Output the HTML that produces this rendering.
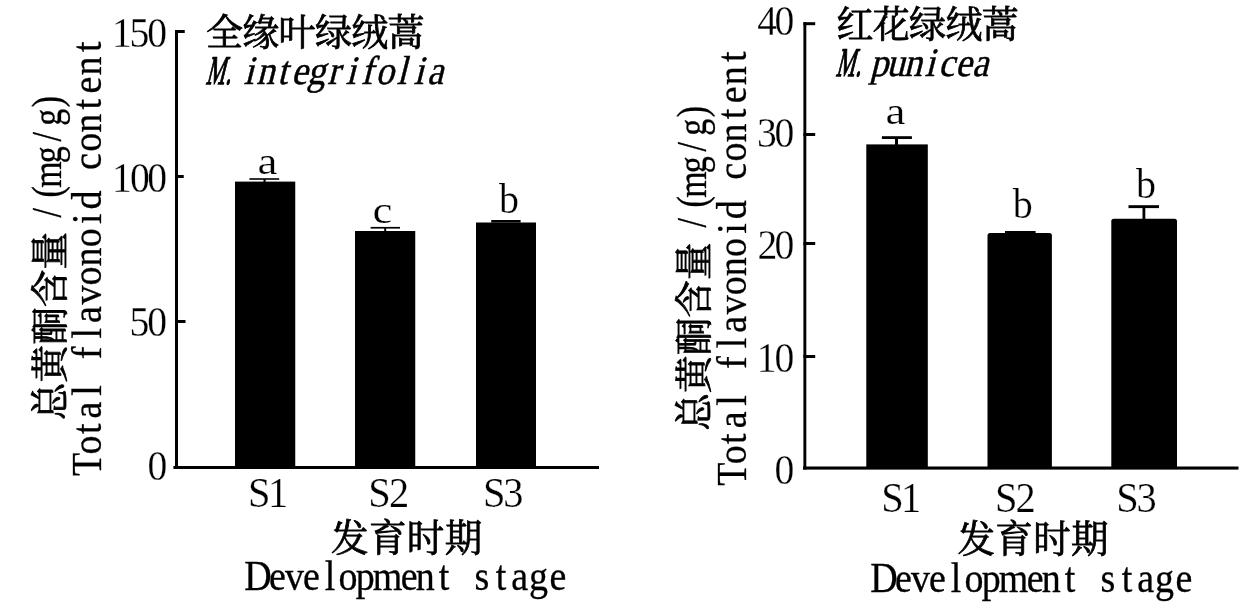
<!DOCTYPE html>
<html lang="zh-CN">
<head>
<meta charset="utf-8">
<title>总黄酮含量 Total flavonoid content</title>
<style>
html,body{margin:0;padding:0;background:#fff;}
body{width:1248px;height:608px;overflow:hidden;}
svg{display:block;}
text{fill:#000;white-space:pre;}
.s{font-family:"Liberation Serif","Noto Serif CJK SC",serif;}
.c{font-family:"Liberation Serif","Noto Serif CJK SC",serif;}
</style>
</head>
<body>
<svg width="1248" height="608" viewBox="0 0 1248 608">
<rect x="0" y="0" width="1248" height="608" fill="#fff"/>
<g id="left-chart">
<g fill="#000">
<rect x="175" y="30" width="3" height="439"/>
<rect x="173.4" y="466" width="425.6" height="3"/>
<rect x="175" y="30" width="9.75" height="3"/>
<rect x="175" y="175" width="8.75" height="3"/>
<rect x="175" y="320" width="10.5" height="3"/>
<rect x="235" y="181.6" width="60.25" height="285.4"/>
<rect x="355" y="231" width="60.25" height="236"/>
<rect x="476" y="222.5" width="60" height="244.5"/>
<rect x="249.4" y="178.2" width="29.8" height="1.6"/>
<rect x="263.5" y="179" width="2.1" height="3"/>
<rect x="370.6" y="226.9" width="29.4" height="1.7"/>
<rect x="384.2" y="227" width="2" height="4.5"/>
<rect x="491.25" y="220" width="29.35" height="2.6"/>
</g>
<text class="s" font-size="41.3" stroke="#fff" stroke-width="0.25" transform="translate(0,46.8) scale(0.96,1)" x="116.7 135.01 153.42">150</text>
<text class="s" font-size="41.3" stroke="#fff" stroke-width="0.25" transform="translate(0,191.6) scale(0.96,1)" x="116.7 135.4 153.42">100</text>
<text class="s" font-size="41.3" stroke="#fff" stroke-width="0.25" transform="translate(0,336) scale(0.96,1)" x="135.01 153.42">50</text>
<text class="s" font-size="41.3" stroke="#fff" stroke-width="0.25" transform="translate(0,480.4) scale(0.96,1)" x="153.74">0</text>
<text class="s" font-size="41.3" stroke="#fff" stroke-width="0.25" transform="translate(0,506.7) scale(0.98,1)" x="253.11 273.39">S1</text>
<text class="s" font-size="41.3" stroke="#fff" stroke-width="0.25" transform="translate(0,506.7) scale(0.98,1)" x="375.76 396.85">S2</text>
<text class="s" font-size="41.3" stroke="#fff" stroke-width="0.25" transform="translate(0,506.7) scale(0.98,1)" x="492.8 513.47">S3</text>
<text class="s" font-size="39" stroke="#fff" stroke-width="0.25" transform="translate(0,173.8) scale(1.15,1)" x="223.97">a</text>
<text class="s" font-size="39" stroke="#fff" stroke-width="0.25" transform="translate(0,222.9) scale(1.15,1)" x="323.81">c</text>
<text class="s" font-size="41.3" stroke="#fff" stroke-width="0.25" transform="translate(0,212.9) scale(0.97,1)" x="514.43">b</text>
<text class="c" font-size="37" font-weight="400" stroke="#000" stroke-width="0.8" transform="translate(206,45.5)" x="0 36.3 72.6 108.9 145.2 181.5">全缘叶绿绒蒿</text>
<text class="s" font-size="40.5" stroke="#000" stroke-width="1.1" vector-effect="non-scaling-stroke" transform="translate(206,83.8) skewX(-14) scale(0.52,1)" x="-1.07 37.25">M.</text>
<text class="s" font-size="40.5" stroke="#000" stroke-width="0.5" transform="translate(240,83.8) skewX(-14) scale(0.9,1)" x="3.78 18.05 41.52 57.03 74.39 96.92 117.11 134.3 150.43 173.82 192.67 207.8">integrifolia</text>
<text class="c" font-size="37.5" font-weight="400" stroke="#000" stroke-width="0.8" transform="translate(331,550.5)" x="0 37.9 75.8 113.7">发育时期</text>
<text class="s" font-size="41.3" stroke="#000" stroke-width="0.3" transform="translate(244.5,590) scale(0.92,1)" x="-0.32 26.66 44 63.46 87.2 102.05 120.89 139.48 169.78 186.16 211.03 232.34 250.02 272.99 289.85 309.29 331.5">Development stage</text>
<text class="c" font-size="37.5" font-weight="400" stroke="#000" stroke-width="0.8" transform="translate(62.5,420) rotate(-90)" x="0 37.6 75.2 112.8 150.4">总黄酮含量</text>
<text class="s" font-size="41.3" stroke="#000" stroke-width="0.3" transform="translate(61,223) rotate(-90) scale(0.82,1)" x="6.7 31.23 43.02 72.97 99.26 118.57 141.05">/(mg/g)</text>
<text class="s" font-size="41.3" stroke="#000" stroke-width="0.3" transform="translate(100.8,476.5) rotate(-90) scale(0.92,1)" x="0.56 23.96 46.08 63.05 87.69 109.02 127.43 149.97 166.86 186.9 207.66 228.26 249.19 274.49 290.21 316.63 333.24 352.99 373.59 399.02 416.34 435.87 461.3">Total flavonoid content</text>
</g>
<g id="right-chart">
<g fill="#000">
<rect x="803.4" y="22.2" width="2.9" height="447.4"/>
<rect x="803" y="466.5" width="435.5" height="3.1"/>
<rect x="803.4" y="22.2" width="11.8" height="3"/>
<rect x="803.4" y="133" width="11.8" height="3"/>
<rect x="803.4" y="242" width="11.8" height="3"/>
<rect x="803.4" y="355" width="11.8" height="3"/>
<rect x="866.3" y="144.4" width="61.5" height="322.6"/>
<rect x="987.5" y="233" width="64.4" height="236" rx="2.5"/>
<rect x="1111.3" y="218.7" width="65.7" height="250" rx="2.5"/>
<rect x="881.9" y="136.2" width="30" height="2.8"/>
<rect x="895" y="137" width="3" height="8"/>
<rect x="1005" y="231" width="30.6" height="2.5"/>
<rect x="1128.5" y="205.2" width="30.5" height="2.9"/>
<rect x="1142.5" y="206" width="2.8" height="13.5"/>
</g>
<text class="s" font-size="41.3" stroke="#fff" stroke-width="0.25" transform="translate(0,34.8) scale(0.96,1)" x="788.76 806.86">40</text>
<text class="s" font-size="41.3" stroke="#fff" stroke-width="0.25" transform="translate(0,146.7) scale(0.96,1)" x="788.66 806.86">30</text>
<text class="s" font-size="41.3" stroke="#fff" stroke-width="0.25" transform="translate(0,258.8) scale(0.96,1)" x="789.07 806.86">20</text>
<text class="s" font-size="41.3" stroke="#fff" stroke-width="0.25" transform="translate(0,371.7) scale(0.96,1)" x="788.27 806.86">10</text>
<text class="s" font-size="41.3" stroke="#fff" stroke-width="0.25" transform="translate(0,483.6) scale(0.96,1)" x="806.86">0</text>
<text class="s" font-size="41.3" stroke="#fff" stroke-width="0.25" transform="translate(0,512) scale(0.98,1)" x="899.13 919.46">S1</text>
<text class="s" font-size="41.3" stroke="#fff" stroke-width="0.25" transform="translate(0,512) scale(0.98,1)" x="1015.25 1036.34">S2</text>
<text class="s" font-size="41.3" stroke="#fff" stroke-width="0.25" transform="translate(0,512) scale(0.98,1)" x="1139.03 1159.6">S3</text>
<text class="s" font-size="39" stroke="#fff" stroke-width="0.25" transform="translate(0,123.6) scale(1.15,1)" x="770.06">a</text>
<text class="s" font-size="41.3" stroke="#fff" stroke-width="0.25" transform="translate(0,218.3) scale(0.97,1)" x="1044.07">b</text>
<text class="s" font-size="41.3" stroke="#fff" stroke-width="0.25" transform="translate(0,197.9) scale(0.97,1)" x="1171.08">b</text>
<text class="c" font-size="37" font-weight="400" stroke="#000" stroke-width="0.8" transform="translate(836.5,37.5)" x="0 36.3 72.6 108.9 145.2">红花绿绒蒿</text>
<text class="s" font-size="40.5" stroke="#000" stroke-width="1.1" vector-effect="non-scaling-stroke" transform="translate(836,76) skewX(-14) scale(0.52,1)" x="-1.07 37.25">M.</text>
<text class="s" font-size="40.5" stroke="#000" stroke-width="0.5" transform="translate(870,76) skewX(-14) scale(0.9,1)" x="-0.4 18.17 37.24 60.45 75.86 94.81 113.35">punicea</text>
<text class="c" font-size="37.5" font-weight="400" stroke="#000" stroke-width="0.8" transform="translate(957.4,552)" x="0 37.9 75.8 113.7">发育时期</text>
<text class="s" font-size="41.3" stroke="#000" stroke-width="0.3" transform="translate(870.5,591.5) scale(0.92,1)" x="-0.32 26.66 44 63.46 87.2 102.05 120.89 139.48 169.78 186.16 211.03 232.34 250.02 272.99 289.85 309.29 331.5">Development stage</text>
<text class="c" font-size="37.5" font-weight="400" stroke="#000" stroke-width="0.8" transform="translate(707,430.5) rotate(-90)" x="0 37.6 75.2 112.8 150.4">总黄酮含量</text>
<text class="s" font-size="41.3" stroke="#000" stroke-width="0.3" transform="translate(705.5,233) rotate(-90) scale(0.82,1)" x="6.7 31.23 43.02 72.97 99.26 118.57 141.05">/(mg/g)</text>
<text class="s" font-size="41.3" stroke="#000" stroke-width="0.3" transform="translate(746.2,486.3) rotate(-90) scale(0.92,1)" x="0.56 23.96 46.08 63.05 87.69 109.02 127.43 149.97 166.86 186.9 207.66 228.26 249.19 274.49 290.21 316.63 333.24 352.99 373.59 399.02 416.34 435.87 461.3">Total flavonoid content</text>
</g>
</svg>
</body>
</html>
